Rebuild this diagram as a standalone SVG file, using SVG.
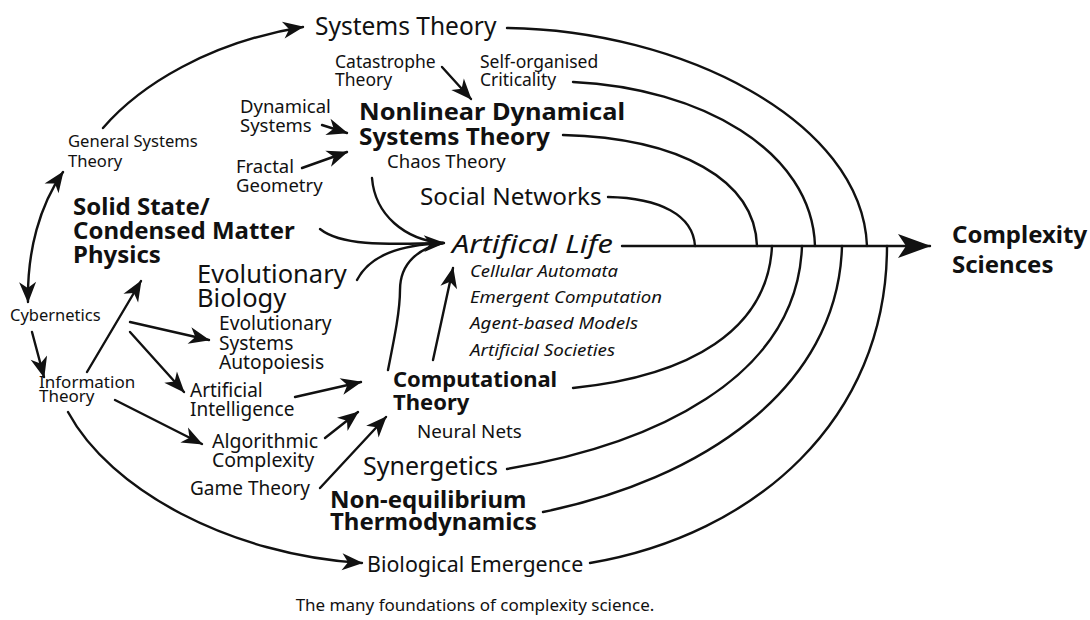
<svg xmlns="http://www.w3.org/2000/svg" width="1090" height="620" viewBox="0 0 1090 620">
<style>
text{font-family:"Noto Sans","Open Sans","DejaVu Sans",sans-serif;fill:#111}
.b{font-weight:bold}
.i{font-style:italic}
.c{fill:none;stroke:#111;stroke-width:2.4;stroke-linecap:round}
.a{marker-end:url(#ah)}
</style>
<defs>
<marker id="ah" viewBox="-22 -10 24 20" markerWidth="24" markerHeight="20" refX="0" refY="0" orient="auto-start-reverse" markerUnits="userSpaceOnUse">
<path d="M1,0 L-20,-8.5 L-14,0 L-20,8.5 Z" fill="#111"/>
</marker>
<marker id="big" viewBox="-34 -13 36 26" markerWidth="36" markerHeight="26" refX="0" refY="0" orient="auto" markerUnits="userSpaceOnUse">
<path d="M1,0 L-32,-12 L-24,0 L-32,12 Z" fill="#111"/>
</marker>
</defs>
<rect width="1090" height="620" fill="#fff"/>

<g id="connectors">
<path class="c" d="M507,28 C680,30 862,120 867,246"/>
<path class="c" d="M573,82 C700,88 812,150 815,246"/>
<path class="c" d="M563,135 C680,138 755,180 757,246"/>
<path class="c" d="M608,197 C660,198 693,215 695,246"/>
<path class="c" d="M573,388 C690,376 768,330 772,246"/>
<path class="c" d="M507,469 C650,445 797,380 802,246"/>
<path class="c" d="M543,512 C700,480 838,390 842,246"/>
<path class="c" d="M590,563 C755,535 887,420 887,246"/>
<path class="c" d="M622,246 L930,246" marker-end="url(#big)"/>
<path class="c a" d="M103,128 C140,85 210,42 303,27"/>
<path class="c a" d="M63,172 C40,205 27,250 28,302" marker-start="url(#ah)"/>
<path class="c a" d="M32,332 L44,377"/>
<path class="c a" d="M87,372 L141,281"/>
<path class="c a" d="M130,322 L209,340"/>
<path class="c a" d="M130,332 L184,392"/>
<path class="c a" d="M115,400 L202,444"/>
<path class="c a" d="M68,412 C110,490 230,555 362,563"/>
<path class="c a" d="M442,67 L471,99"/>
<path class="c a" d="M322,125 L347,133"/>
<path class="c a" d="M302,168 L347,152"/>
<path class="c" d="M372,178 C375,215 405,240 443,243"/>
<path class="c" d="M357,280 C370,255 400,245 443,243"/>
<path class="c" d="M388,370 C395,335 400,310 400,290 C400,262 420,248 443,243"/>
<path class="c a" d="M320,229 C340,245 380,245 444,243"/>
<path class="c a" d="M433,360 L453,268"/>
<path class="c a" d="M295,397 L361,382"/>
<path class="c a" d="M325,438 L358,412"/>
<path class="c a" d="M320,488 L386,417"/>
</g>

<g id="systems-theory"><text x="315" y="35" font-size="24.5">Systems Theory</text></g>
<g id="catastrophe-theory"><text x="335" y="68" font-size="17.5">Catastrophe</text><text x="335" y="86" font-size="17.5">Theory</text></g>
<g id="self-organised-criticality"><text x="480" y="68" font-size="17.5">Self-organised</text><text x="480" y="86" font-size="17.5">Criticality</text></g>
<g id="nonlinear-dynamical-systems-theory"><text class="b" x="359" y="120" font-size="23.5" textLength="266" lengthAdjust="spacingAndGlyphs">Nonlinear Dynamical</text><text class="b" x="359" y="145" font-size="23.5" textLength="191" lengthAdjust="spacingAndGlyphs">Systems Theory</text></g>
<g id="chaos-theory"><text x="387" y="168" font-size="18.5">Chaos Theory</text></g>
<g id="dynamical-systems"><text x="240" y="113" font-size="18.5">Dynamical</text><text x="240" y="132" font-size="18.5">Systems</text></g>
<g id="fractal-geometry"><text x="236" y="173" font-size="18.5">Fractal</text><text x="236" y="192" font-size="18.5">Geometry</text></g>
<g id="general-systems-theory"><text x="68" y="147" font-size="16.6">General Systems</text><text x="68" y="167" font-size="16.6">Theory</text></g>
<g id="social-networks"><text x="420" y="205" font-size="24.3">Social Networks</text></g>
<g id="solid-state"><text class="b" x="73" y="215" font-size="24">Solid State/</text><text class="b" x="73" y="239" font-size="24">Condensed Matter</text><text class="b" x="73" y="263" font-size="24">Physics</text></g>
<g id="artifical-life"><text class="i" x="452" y="253" font-size="26" textLength="161" lengthAdjust="spacingAndGlyphs">Artifical Life</text></g>
<g id="artificial-life-topics"><text class="i" x="470" y="277" font-size="16.5" textLength="148" lengthAdjust="spacingAndGlyphs">Cellular Automata</text><text class="i" x="470" y="303" font-size="16.5" textLength="192" lengthAdjust="spacingAndGlyphs">Emergent Computation</text><text class="i" x="470" y="329" font-size="16.5" textLength="168" lengthAdjust="spacingAndGlyphs">Agent-based Models</text><text class="i" x="470" y="356" font-size="16.5" textLength="145" lengthAdjust="spacingAndGlyphs">Artificial Societies</text></g>
<g id="evolutionary-biology"><text x="197" y="283" font-size="25.5">Evolutionary</text><text x="197" y="307" font-size="25.5">Biology</text></g>
<g id="cybernetics"><text x="10" y="321" font-size="16.5">Cybernetics</text></g>
<g id="evolutionary-systems"><text x="219" y="330" font-size="19.2">Evolutionary</text><text x="219" y="350" font-size="19.2">Systems</text><text x="219" y="369" font-size="19.2">Autopoiesis</text></g>
<g id="information-theory"><text x="39" y="388" font-size="17">Information</text><text x="39" y="402" font-size="17">Theory</text></g>
<g id="artificial-intelligence"><text x="190" y="397" font-size="19">Artificial</text><text x="190" y="416" font-size="19">Intelligence</text></g>
<g id="computational-theory"><text class="b" x="393" y="387" font-size="22">Computational</text><text class="b" x="393" y="410" font-size="22">Theory</text></g>
<g id="neural-nets"><text x="417" y="438" font-size="18.8">Neural Nets</text></g>
<g id="algorithmic-complexity"><text x="212" y="448" font-size="19.5">Algorithmic</text><text x="212" y="467" font-size="19.5">Complexity</text></g>
<g id="game-theory"><text x="190" y="495" font-size="19">Game Theory</text></g>
<g id="synergetics"><text x="363" y="475" font-size="25">Synergetics</text></g>
<g id="non-equilibrium-thermodynamics"><text class="b" x="330" y="508" font-size="24">Non-equilibrium</text><text class="b" x="330" y="530" font-size="24">Thermodynamics</text></g>
<g id="biological-emergence"><text x="367" y="572" font-size="21.4">Biological Emergence</text></g>
<g id="complexity-sciences"><text class="b" x="952" y="243" font-size="24">Complexity</text><text class="b" x="952" y="273" font-size="24">Sciences</text></g>
<text x="475" y="611" font-size="17" text-anchor="middle">The many foundations of complexity science.</text>
</svg>
